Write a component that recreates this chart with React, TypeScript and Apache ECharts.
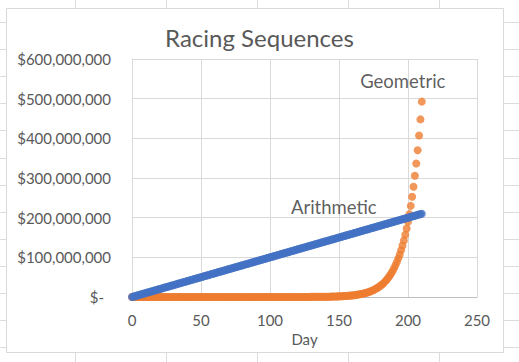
import React, { useEffect, useRef } from "react";
import * as echarts from "echarts";

const titleText = "Racing Sequences";
const xAxisName = "Day";
const seriesNames = ["Arithmetic", "Geometric"];
const xTicks = { min: 0, max: 250, interval: 50 };
const yTicks = { min: 0, max: 600000000, interval: 100000000 };

const days = [
  0, 1, 2, 3, 4, 5, 6, 7, 8, 9,
  10, 11, 12, 13, 14, 15, 16, 17, 18, 19,
  20, 21, 22, 23, 24, 25, 26, 27, 28, 29,
  30, 31, 32, 33, 34, 35, 36, 37, 38, 39,
  40, 41, 42, 43, 44, 45, 46, 47, 48, 49,
  50, 51, 52, 53, 54, 55, 56, 57, 58, 59,
  60, 61, 62, 63, 64, 65, 66, 67, 68, 69,
  70, 71, 72, 73, 74, 75, 76, 77, 78, 79,
  80, 81, 82, 83, 84, 85, 86, 87, 88, 89,
  90, 91, 92, 93, 94, 95, 96, 97, 98, 99,
  100, 101, 102, 103, 104, 105, 106, 107, 108, 109,
  110, 111, 112, 113, 114, 115, 116, 117, 118, 119,
  120, 121, 122, 123, 124, 125, 126, 127, 128, 129,
  130, 131, 132, 133, 134, 135, 136, 137, 138, 139,
  140, 141, 142, 143, 144, 145, 146, 147, 148, 149,
  150, 151, 152, 153, 154, 155, 156, 157, 158, 159,
  160, 161, 162, 163, 164, 165, 166, 167, 168, 169,
  170, 171, 172, 173, 174, 175, 176, 177, 178, 179,
  180, 181, 182, 183, 184, 185, 186, 187, 188, 189,
  190, 191, 192, 193, 194, 195, 196, 197, 198, 199,
  200, 201, 202, 203, 204, 205, 206, 207, 208, 209,
  210,
];

const arithmetic = [
  0, 1e6, 2e6, 3e6, 4e6, 5e6, 6e6, 7e6, 8e6, 9e6,
  10e6, 11e6, 12e6, 13e6, 14e6, 15e6, 16e6, 17e6, 18e6, 19e6,
  20e6, 21e6, 22e6, 23e6, 24e6, 25e6, 26e6, 27e6, 28e6, 29e6,
  30e6, 31e6, 32e6, 33e6, 34e6, 35e6, 36e6, 37e6, 38e6, 39e6,
  40e6, 41e6, 42e6, 43e6, 44e6, 45e6, 46e6, 47e6, 48e6, 49e6,
  50e6, 51e6, 52e6, 53e6, 54e6, 55e6, 56e6, 57e6, 58e6, 59e6,
  60e6, 61e6, 62e6, 63e6, 64e6, 65e6, 66e6, 67e6, 68e6, 69e6,
  70e6, 71e6, 72e6, 73e6, 74e6, 75e6, 76e6, 77e6, 78e6, 79e6,
  80e6, 81e6, 82e6, 83e6, 84e6, 85e6, 86e6, 87e6, 88e6, 89e6,
  90e6, 91e6, 92e6, 93e6, 94e6, 95e6, 96e6, 97e6, 98e6, 99e6,
  100e6, 101e6, 102e6, 103e6, 104e6, 105e6, 106e6, 107e6, 108e6, 109e6,
  110e6, 111e6, 112e6, 113e6, 114e6, 115e6, 116e6, 117e6, 118e6, 119e6,
  120e6, 121e6, 122e6, 123e6, 124e6, 125e6, 126e6, 127e6, 128e6, 129e6,
  130e6, 131e6, 132e6, 133e6, 134e6, 135e6, 136e6, 137e6, 138e6, 139e6,
  140e6, 141e6, 142e6, 143e6, 144e6, 145e6, 146e6, 147e6, 148e6, 149e6,
  150e6, 151e6, 152e6, 153e6, 154e6, 155e6, 156e6, 157e6, 158e6, 159e6,
  160e6, 161e6, 162e6, 163e6, 164e6, 165e6, 166e6, 167e6, 168e6, 169e6,
  170e6, 171e6, 172e6, 173e6, 174e6, 175e6, 176e6, 177e6, 178e6, 179e6,
  180e6, 181e6, 182e6, 183e6, 184e6, 185e6, 186e6, 187e6, 188e6, 189e6,
  190e6, 191e6, 192e6, 193e6, 194e6, 195e6, 196e6, 197e6, 198e6, 199e6,
  200e6, 201e6, 202e6, 203e6, 204e6, 205e6, 206e6, 207e6, 208e6, 209e6,
  210e6,
];

const geometric = [
  1, 1.1, 1.21, 1.33, 1.46, 1.61, 1.77, 1.95, 2.14, 2.36,
  2.59, 2.85, 3.14, 3.45, 3.8, 4.18, 4.59, 5.05, 5.56, 6.12,
  6.73, 7.4, 8.14, 8.95, 9.85, 10.83, 11.92, 13.11, 14.42, 15.86,
  17.45, 19.19, 21.11, 23.23, 25.55, 28.1, 30.91, 34, 37.4, 41.14,
  45.26, 49.79, 54.76, 60.24, 66.26, 72.89, 80.18, 88.2, 97.02, 106.72,
  117.4, 129.1, 142, 156.2, 171.9, 189.1, 208, 228.8, 251.6, 276.8,
  304.5, 334.9, 368.4, 405.3, 445.8, 490.4, 539.4, 593.3, 652.7, 718,
  790, 869, 956, 1051, 1156, 1272, 1399, 1539, 1693, 1862,
  2048, 2253, 2479, 2726, 2999, 3299, 3629, 3992, 4391, 4830,
  5313, 5844, 6429, 7072, 7779, 8557, 9412, 10354, 11389, 12528,
  13781, 15159, 16675, 18342, 20176, 22194, 24413, 26855, 29540, 32494,
  35743, 39317, 43249, 47574, 52331, 57564, 63321, 69653, 76618, 84280,
  92709, 101980, 112178, 123396, 135735, 149309, 164240, 180664, 198730, 218603,
  240463, 264509, 290960, 320056, 352062, 387268, 425995, 468595, 515454, 567000,
  623700, 686070, 754677, 830145, 913159, 1004475, 1104923, 1215415, 1336957, 1470653,
  1617718, 1779490, 1957439, 2153183, 2368501, 2605351, 2865886, 3152475, 3467722, 3814495,
  4195943, 4615537, 5077091, 5584800, 6143280, 6757608, 7433369, 8176706, 8994376, 9893814,
  10883245, 11971570, 13168727, 14485599, 15934159, 17527575, 19280333, 21208366, 23329203, 25662123,
  28228209, 31051030, 34156133, 37571746, 41328921, 45461813, 50007994, 55008794, 60509673, 66560640,
  73217740, 80539514, 88593465, 97452812, 107198093, 117917902, 129709692, 142680662, 156948728, 172643601,
  189905276, 208895804, 229785384, 252763922, 278040315, 305844346, 336428781, 370071659, 407078825, 447786707,
  492565378,
];

const FONT = "Lato, 'Open Sans', sans-serif";
const GRAY_TEXT = "#595959";
const LINE = "#d9d9d9";

function fmtMoney(v: number): string {
  if (v === 0) return "{z|$-}";
  const s = Math.round(v).toString();
  const parts: string[] = [];
  for (let i = s.length; i > 0; i -= 3) parts.unshift(s.substring(Math.max(0, i - 3), i));
  return "$" + parts.join(",");
}

function buildPairs(xs: number[], ys: number[], name: string, offset: number[]) {
  return xs.map((x, i) => {
    const item: any = { value: [x, ys[i]] };
    if (i === xs.length - 1) {
      item.label = {
        show: true,
        formatter: name,
        position: "inside",
        offset,
        color: "#333333",
        fontSize: 18.5,
        fontFamily: FONT,
      };
    }
    return item;
  });
}

export default function App() {
  const ref = useRef<HTMLDivElement>(null);

  useEffect(() => {
    if (!ref.current) return;
    const chart = echarts.init(ref.current, undefined, { renderer: "svg" });

    const W = 519;
    const H = 362;
    const sheet: any[] = [];
    for (let x = 75; x < W; x += 91) {
      sheet.push({
        type: "line",
        shape: { x1: x + 0.5, y1: 0, x2: x + 0.5, y2: H },
        style: { stroke: "#dcdcdc", lineWidth: 1 },
        silent: true,
      });
    }
    for (let k = 0; k < 13; k++) {
      const y = Math.round(22 + 27.1 * k) + 0.5;
      sheet.push({
        type: "line",
        shape: { x1: 0, y1: y, x2: W, y2: y },
        style: { stroke: "#dcdcdc", lineWidth: 1 },
        silent: true,
      });
    }
    sheet.push({
      type: "rect",
      shape: { x: 6.5, y: 8.5, width: 497, height: 344 },
      style: { fill: "#ffffff", stroke: LINE, lineWidth: 1 },
      silent: true,
    });

    chart.setOption({
      animation: false,
      backgroundColor: "#ffffff",
      textStyle: { fontFamily: FONT },
      graphic: { elements: sheet },
      title: {
        text: titleText,
        left: "center",
        top: 20,
        textStyle: {
          fontFamily: FONT,
          fontSize: 24,
          fontWeight: "normal",
          color: GRAY_TEXT,
        },
      },
      grid: { left: 132, top: 59, right: 42, bottom: 65, containLabel: false },
      xAxis: {
        type: "value",
        min: xTicks.min,
        max: xTicks.max,
        interval: xTicks.interval,
        name: xAxisName,
        nameLocation: "middle",
        nameGap: 32,
        nameTextStyle: { fontFamily: FONT, fontSize: 15, color: GRAY_TEXT },
        axisLine: { show: true, lineStyle: { color: "#bfbfbf" } },
        axisTick: { show: false },
        axisLabel: { fontFamily: FONT, fontSize: 15, color: GRAY_TEXT, margin: 15 },
        splitLine: { show: true, lineStyle: { color: LINE } },
      },
      yAxis: {
        type: "value",
        min: yTicks.min,
        max: yTicks.max,
        interval: yTicks.interval,
        axisLine: { show: true, lineStyle: { color: LINE } },
        axisTick: { show: false },
        axisLabel: {
          fontFamily: FONT,
          fontSize: 15,
          color: GRAY_TEXT,
          margin: 21,
          formatter: fmtMoney,
          rich: {
            z: { fontFamily: FONT, fontSize: 15, color: GRAY_TEXT, padding: [0, 7, 0, 0] },
          },
        },
        splitLine: { show: true, lineStyle: { color: LINE } },
      },
      series: [
        {
          name: seriesNames[1],
          type: "scatter",
          symbol: "circle",
          symbolSize: 8,
          itemStyle: { color: "#ED7D31" },
          data: buildPairs(days, geometric, seriesNames[1], [-19, -21]),
        },
        {
          name: seriesNames[0],
          type: "scatter",
          symbol: "circle",
          symbolSize: 8,
          itemStyle: { color: "#4472C4" },
          data: buildPairs(days, arithmetic, seriesNames[0], [-88, -7]),
        },
      ],
    });

    return () => chart.dispose();
  }, []);

  return (
    <div
      ref={ref}
      style={{ position: "absolute", left: 0, top: 0, width: 519, height: 362 }}
    />
  );
}
